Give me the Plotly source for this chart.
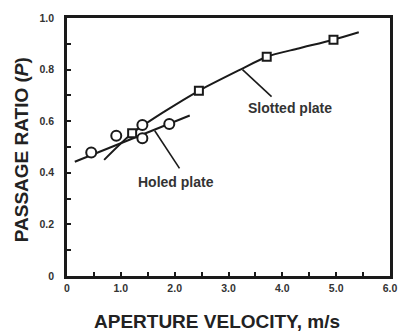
import plotly.graph_objects as go

# Measured points
slotted_x = [1.21, 2.45, 3.71, 4.95]
slotted_y = [0.553, 0.718, 0.850, 0.916]
holed_x = [0.45, 0.915, 1.40, 1.40, 1.90]
holed_y = [0.479, 0.544, 0.585, 0.534, 0.589]

# Fitted curves
slotted_fit_x = [0.69, 1.21, 1.80, 2.45, 3.24, 3.71, 4.30, 4.95, 5.42]
slotted_fit_y = [0.450, 0.553, 0.636, 0.718, 0.802, 0.850, 0.882, 0.916, 0.945]
holed_fit_x = [0.145, 2.28]
holed_fit_y = [0.443, 0.622]

x_ticks = [0, 1, 2, 3, 4, 5, 6]
x_tick_text = ["0", "1.0", "2.0", "3.0", "4.0", "5.0", "6.0"]
y_ticks = [0, 0.2, 0.4, 0.6, 0.8, 1.0]
y_tick_text = ["0", "0.2", "0.4", "0.6", "0.8", "1.0"]

INK = "#1a1a1a"
FONT = "Liberation Sans"

fig = go.Figure()
fig.add_trace(go.Scatter(x=slotted_fit_x, y=slotted_fit_y, mode="lines",
                         line=dict(color=INK, width=2, shape="spline", smoothing=0.7),
                         hoverinfo="skip"))
fig.add_trace(go.Scatter(x=holed_fit_x, y=holed_fit_y, mode="lines",
                         line=dict(color=INK, width=2), hoverinfo="skip"))
fig.add_trace(go.Scatter(x=slotted_x, y=slotted_y, mode="markers",
                         marker=dict(symbol="square", size=8, color="white",
                                     line=dict(color=INK, width=2))))
fig.add_trace(go.Scatter(x=holed_x, y=holed_y, mode="markers",
                         marker=dict(symbol="circle", size=10, color="white",
                                     line=dict(color=INK, width=2))))

# Leader lines for the curve labels
fig.add_shape(type="line", x0=3.26, y0=0.800, x1=3.80, y1=0.695,
              line=dict(color=INK, width=1.6))
fig.add_shape(type="line", x0=1.63, y0=0.563, x1=2.09, y1=0.417,
              line=dict(color=INK, width=1.6))
fig.add_annotation(x=4.15, y=0.652, text="<b>Slotted plate</b>", showarrow=False,
                   font=dict(family=FONT, size=14, color="#333"))
fig.add_annotation(x=2.02, y=0.365, text="<b>Holed plate</b>", showarrow=False,
                   font=dict(family=FONT, size=14, color="#333"))

# Axis titles
fig.add_annotation(xref="paper", yref="paper", x=0.4636, y=-0.178,
                   xanchor="center", yanchor="middle",
                   text="<b>APERTURE VELOCITY, m/s</b>", showarrow=False,
                   font=dict(family=FONT, size=19, color="#222"))
fig.add_annotation(xref="paper", yref="paper", x=-0.142, y=0.488, textangle=-90,
                   xanchor="center", yanchor="middle",
                   text="<b>PASSAGE RATIO (<i>P</i>)</b>", showarrow=False,
                   font=dict(family=FONT, size=19, color="#222"))

axis_common = dict(
    showgrid=False, zeroline=False, showline=True, linecolor=INK, linewidth=2.5,
    mirror=True, ticks="inside", ticklen=4, tickwidth=2, tickcolor=INK,
    tickfont=dict(family=FONT, size=10.5, color="#333"),
)
fig.update_xaxes(range=[0, 6], tickvals=x_ticks,
                 ticktext=[f"<b>{t}</b>" for t in x_tick_text], ticklabelstandoff=1,
                 minor=dict(dtick=0.5, ticks="inside", ticklen=4, tickwidth=2, tickcolor=INK),
                 **axis_common)
fig.update_yaxes(range=[0, 1.0], tickvals=y_ticks,
                 ticktext=[f"<b>{t}</b>" for t in y_tick_text], ticklabelstandoff=8,
                 minor=dict(dtick=0.1, ticks="inside", ticklen=4, tickwidth=2, tickcolor=INK),
                 **axis_common)

fig.update_layout(width=405, height=333, margin=dict(l=67, r=8, t=18, b=57),
                  paper_bgcolor="white", plot_bgcolor="white", showlegend=False)

fig.write_html("out.html")
